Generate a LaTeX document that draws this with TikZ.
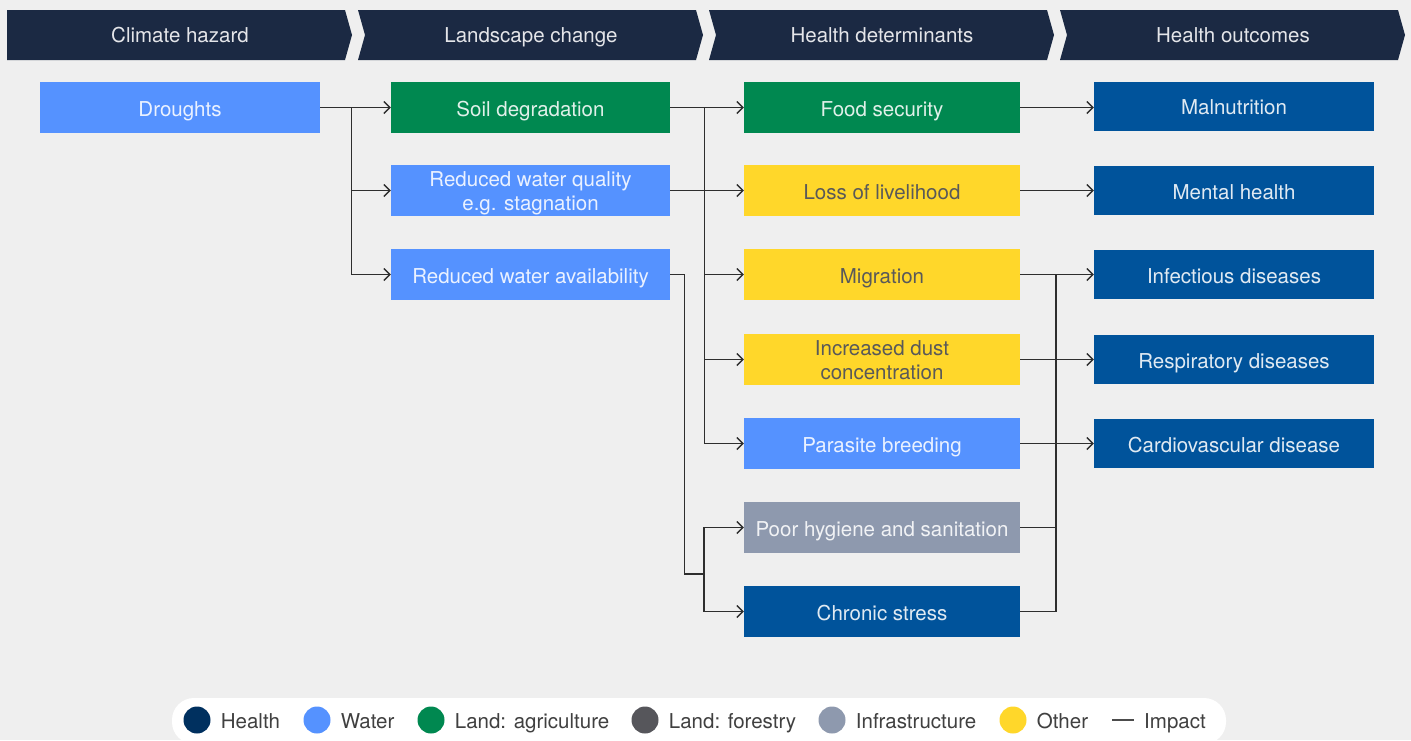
\documentclass[tikz,border=0pt]{standalone}
\usepackage{fontspec}
\setmainfont{TeX Gyre Heros}
\usetikzlibrary{shapes,arrows,arrows.meta,calc,positioning}

\definecolor{bgc}{HTML}{EFEFEF}
\definecolor{navyc}{HTML}{1B2943}
\definecolor{healthc}{HTML}{00539B}
\definecolor{healthdotc}{HTML}{00305F}
\definecolor{waterc}{HTML}{5592FF}
\definecolor{agric}{HTML}{008850}
\definecolor{forestc}{HTML}{56565B}
\definecolor{infrac}{HTML}{8E99AE}
\definecolor{otherc}{HTML}{FFD72A}
\definecolor{linec}{HTML}{2E2E2E}

\newcommand{\boxfont}{\fontsize{20.5}{24}\selectfont}

\tikzset{
  head/.style={text=white!88!navyc, font=\boxfont, inner sep=0pt, text height=17pt, text depth=2pt},
  cell/.style={minimum height=51pt, inner sep=0pt, align=center, font=\boxfont,
    text=white, text opacity=.88, text height=18pt, text depth=1pt},
  twolines/.style={text height=42pt, text depth=3pt},
  c1/.style={minimum width=280pt},
  c2/.style={minimum width=279pt},
  c3/.style={minimum width=276pt},
  c4/.style={minimum width=280pt, minimum height=49pt},
  health/.style={fill=healthc},
  water/.style={fill=waterc},
  agri/.style={fill=agric},
  infra/.style={fill=infrac},
  other/.style={fill=otherc, text=black!65, text opacity=1},
  link/.style={draw=linec, line width=1.4pt},
  dot/.style={circle, minimum size=27pt, inner sep=0pt},
  legtext/.style={text=black!75, font=\boxfont, inner sep=0pt, text height=17pt, text depth=1pt}
}

\begin{document}
\begin{tikzpicture}[x=1pt,y=-1pt,>={Straight Barb[length=6pt,width=12pt]}]
\useasboundingbox (0,0) rectangle (1411,740);
\fill[bgc] (0,0) rectangle (1411,740);

% header
\fill[navyc] (7,10) -- (345,10) -- (352,35) -- (345,60) -- (7,60) -- cycle;
\foreach \x in {358,709,1060}
  \fill[navyc] (\x,10) -- ++(338,0) -- ++(7,25) -- ++(-7,25) -- ++(-338,0) -- ++(7,-25) -- cycle;
\node[head] (hhazard) at (180,35) {Climate hazard};
\node[head] (hlandscape) at (531,35) {Landscape change};
\node[head] (hdeterminants) at (882,35) {Health determinants};
\node[head] (houtcomes) at (1233,35) {Health outcomes};

% climate hazard
\node[cell,c1,water] (drought) at (180,107.5) {Droughts};

% landscape change
\node[cell,c2,agri] (soil) at (530.5,107.5) {Soil degradation};
\node[cell,c2,water,twolines] (quality) at (530.5,190.5) {Reduced water quality\\e.g. stagnation};
\node[cell,c2,water] (avail) at (530.5,274.5) {Reduced water availability};

% health determinants
\node[cell,c3,agri] (food) at (882,107.5) {Food security};
\node[cell,c3,other] (livelihood) at (882,190.5) {Loss of livelihood};
\node[cell,c3,other] (migration) at (882,274.5) {Migration};
\node[cell,c3,other,twolines] (dust) at (882,359.5) {Increased dust\\concentration};
\node[cell,c3,water] (parasite) at (882,443.5) {Parasite breeding};
\node[cell,c3,infra] (hygiene) at (882,527.5) {Poor hygiene and sanitation};
\node[cell,c3,health] (stress) at (882,611.5) {Chronic stress};

% health outcomes
\node[cell,c4,health] (malnutrition) at (1234,106) {Malnutrition};
\node[cell,c4,health] (mental) at (1234,190.5) {Mental health};
\node[cell,c4,health] (infectious) at (1234,274.5) {Infectious diseases};
\node[cell,c4,health] (respiratory) at (1234,359.5) {Respiratory diseases};
\node[cell,c4,health] (cardio) at (1234,443.5) {Cardiovascular disease};

% connectors
\coordinate (busA) at ($(drought.east)+(31,0)$);
\draw[link,->] (drought) -- (soil);
\draw[link,->] (busA) |- (quality);
\draw[link,->] (busA) |- (avail);

\coordinate (busB) at ($(soil.east)+(34,0)$);
\draw[link,->] (soil) -- (food);
\draw[link,->] (quality) -- (livelihood);
\foreach \n in {migration,dust,parasite}
  \draw[link,->] (busB) |- (\n);

\coordinate (busC) at (704,574);
\draw[link] (avail.east) -- ++(14,0) |- (busC);
\draw[link,->] (busC) |- (hygiene);
\draw[link,->] (busC) |- (stress);

\coordinate (busD) at (1056,274.5);
\draw[link,->] (food.east) -- (food.east -| malnutrition.west);
\draw[link,->] (livelihood) -- (mental);
\draw[link,->] (migration) -- (infectious);
\draw[link,->] (dust) -- (respiratory);
\draw[link,->] (parasite) -- (cardio);
\draw[link] (hygiene.east) -| (busD);
\draw[link] (stress.east) -| (busD);

% legend
\fill[white, rounded corners=22pt] (172,698) rectangle (1226,744);
\foreach \x/\c/\t [count=\i] in {197/healthdotc/Health, 317/waterc/Water,
    431/agric/Land: agriculture, 645/forestc/Land: forestry,
    832/infrac/Infrastructure, 1013/otherc/Other}{
  \node[dot, fill=\c] (ldot\i) at (\x,720) {};
  \node[legtext, anchor=west, right=10pt of ldot\i] (ltext\i) {\t};
}
\coordinate (limpA) at (1112,720);
\coordinate (limpB) at (1134,720);
\draw[draw=black!70, line width=1.6pt] (limpA) -- (limpB);
\node[legtext, anchor=west] (limpact) at (1144,720) {Impact};

\end{tikzpicture}
\end{document}
